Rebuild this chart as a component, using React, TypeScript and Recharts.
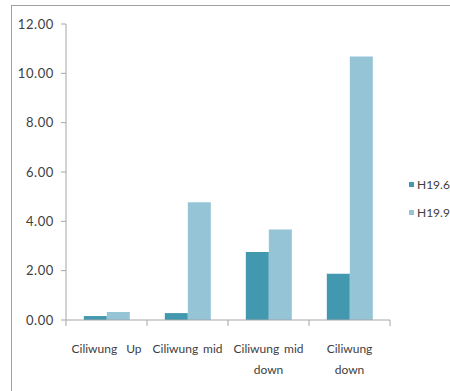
import React from "react";
import { BarChart, Bar, XAxis, YAxis, Legend } from "recharts";

const categories: string[][] = [
  ["Ciliwung|Up"],
  ["Ciliwung|mid"],
  ["Ciliwung|mid", "down"],
  ["Ciliwung", "down"],
];
const h196: number[] = [0.16, 0.28, 2.76, 1.87];
const h199: number[] = [0.32, 4.77, 3.67, 10.68];
const yTicks: number[] = [0, 2, 4, 6, 8, 10, 12];
const seriesNames = ["H19.6", "H19.9"];
const colors = ["#4298AE", "#94C4D5"];

const data = categories.map((c, i) => ({
  name: c.join("/"),
  lines: c,
  [seriesNames[0]]: h196[i],
  [seriesNames[1]]: h199[i],
}));

const FONT = "Lato, 'Liberation Sans Narrow', 'DejaVu Sans Condensed', sans-serif";
const TXT = "#404040";
const FS = 12;

const XTick = (props: any) => {
  const { x, y, payload, index } = props;
  const half = payload.offset ?? 0;
  const lines: string[] = data[index]?.lines ?? [];
  const n = data.length;
  return (
    <g>
      <line x1={x - half} y1={y - 8} x2={x - half} y2={y - 2} stroke="#a6a6a6" />
      {index === n - 1 && (
        <line x1={x + half} y1={y - 8} x2={x + half} y2={y - 2} stroke="#a6a6a6" />
      )}
      {lines.map((ln, li) => {
        const yy = y + 25 + li * 21;
        if (ln.includes("|")) {
          const [a, b] = ln.split("|");
          return (
            <g key={li}>
              <text x={x - 35} y={yy} textAnchor="start" fontFamily={FONT} fontSize={FS} fill={TXT}>
                {a}
              </text>
              <text x={x + 35} y={yy} textAnchor="end" fontFamily={FONT} fontSize={FS} fill={TXT}>
                {b}
              </text>
            </g>
          );
        }
        return (
          <text key={li} x={x} y={yy} textAnchor="middle" fontFamily={FONT} fontSize={FS} fill={TXT}>
            {ln}
          </text>
        );
      })}
    </g>
  );
};

const LegendContent = () => (
  <div style={{ fontFamily: FONT, fontSize: FS, color: TXT }}>
    {seriesNames.map((s, i) => (
      <div key={s} style={{ display: "flex", alignItems: "center", height: 28 }}>
        <span style={{ display: "inline-block", width: 5, height: 5, background: colors[i], marginRight: 3 }} />
        <span>{s}</span>
      </div>
    ))}
  </div>
);

export default function App() {
  return (
    <div style={{ position: "fixed", left: 0, top: 0, width: 450, height: 391, background: "#fff", overflow: "hidden" }}>
      <div
        style={{
          position: "absolute",
          left: 11,
          top: 5,
          width: 480,
          height: 420,
          border: "1px solid #a0a0a0",
          boxSizing: "border-box",
        }}
      />
      <div style={{ position: "absolute", left: 0, top: 0 }}>
        <BarChart
          width={450}
          height={391}
          data={data}
          margin={{ top: 24, right: 60, bottom: 11, left: 10 }}
          barCategoryGap="22%"
          barGap={0}
        >
          <XAxis
            dataKey="name"
            height={60}
            tickLine={false}
            axisLine={{ stroke: "#a6a6a6" }}
            tick={<XTick />}
            interval={0}
          />
          <YAxis
            width={56}
            domain={[0, 12]}
            ticks={yTicks}
            tickFormatter={(v: number) => v.toFixed(2)}
            tickSize={5}
            tickMargin={7}
            axisLine={{ stroke: "#a6a6a6" }}
            tickLine={{ stroke: "#a6a6a6" }}
            tick={{ fontFamily: FONT, fontSize: 13, fill: TXT, letterSpacing: 0.6 }}
          />
          <Legend
            content={<LegendContent />}
            layout="horizontal"
            verticalAlign="middle"
            align="center"
            wrapperStyle={{ position: "absolute", left: 409, top: 170, width: 60 }}
          />
          <Bar dataKey={seriesNames[0]} fill={colors[0]} isAnimationActive={false} />
          <Bar dataKey={seriesNames[1]} fill={colors[1]} isAnimationActive={false} />
        </BarChart>
      </div>
    </div>
  );
}
